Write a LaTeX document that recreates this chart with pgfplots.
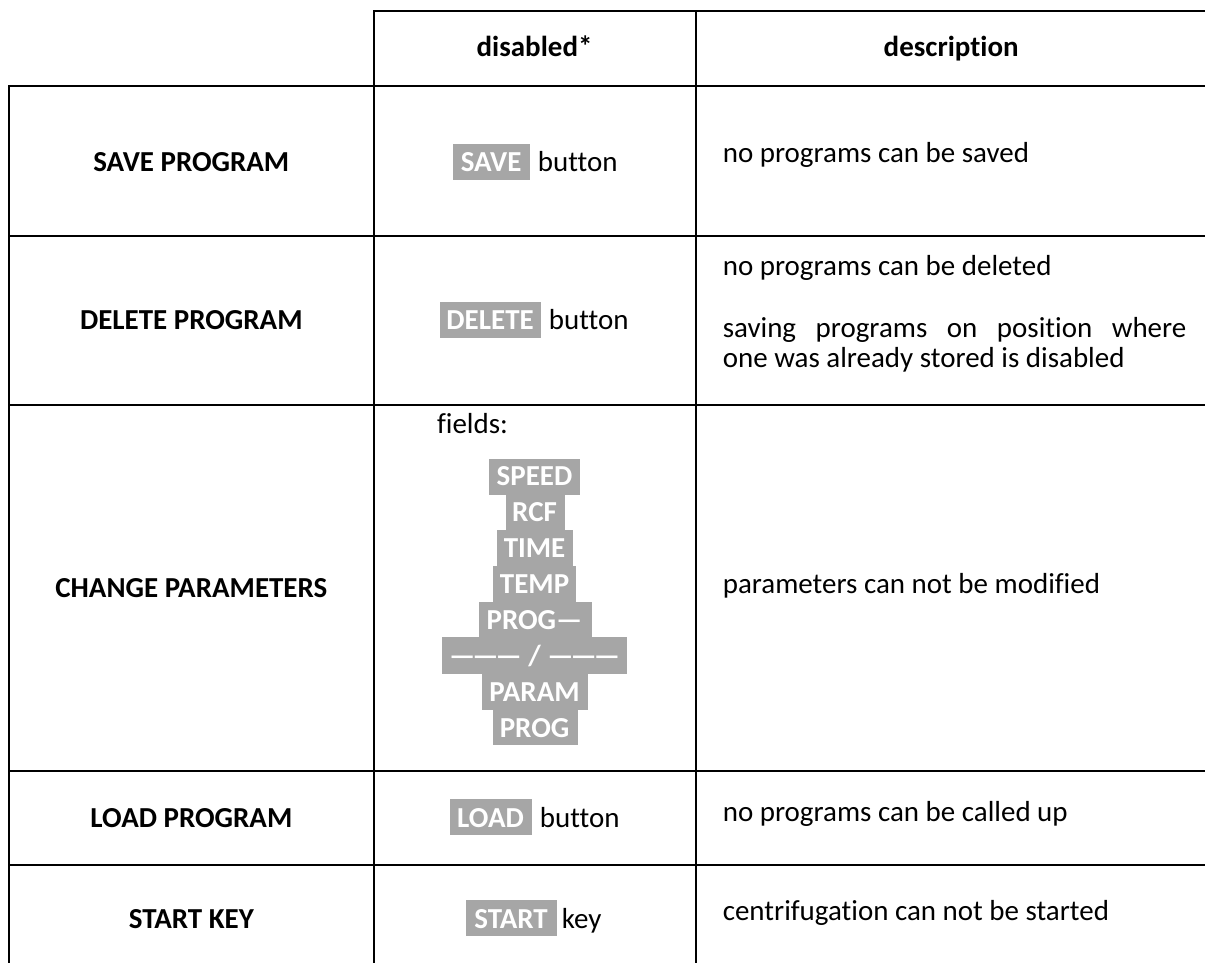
\documentclass[border=0pt]{standalone}
\usepackage{pgfplots}
\pgfplotsset{compat=1.18}
\usepackage{fontspec}
\setmainfont{Carlito}[Ligatures={NoCommon}]
\definecolor{boxgray}{HTML}{A6A6A6}
\tikzset{
  tx/.style={font=\fontsize{14.5pt}{15pt}\selectfont, inner sep=0pt, anchor=base},
  txb/.style={font=\fontsize{14.5pt}{15pt}\selectfont\bfseries, inner sep=0pt, anchor=base},
  btn/.style={font=\fontsize{14.5pt}{15pt}\selectfont\bfseries, inner sep=0pt, anchor=base, text=white},
}
\begin{document}
\begin{tikzpicture}
\begin{axis}[width=603pt,height=482pt,scale only axis,
  xmin=0,xmax=1206,ymin=0,ymax=964,y dir=reverse,
  axis lines=none,clip=false,no markers]
% bounding area
\addplot[draw=none,forget plot] coordinates {(0,0) (1206,964)};
% table rules
\addplot[black,line width=1pt,forget plot] coordinates {(374,11) (1206,11)};
\addplot[black,line width=1pt,forget plot] coordinates {(8.5,86) (1206,86)};
\addplot[black,line width=1pt,forget plot] coordinates {(8.5,236) (1206,236)};
\addplot[black,line width=1pt,forget plot] coordinates {(8.5,405) (1206,405)};
\addplot[black,line width=1pt,forget plot] coordinates {(8.5,772) (1206,772)};
\addplot[black,line width=1pt,forget plot] coordinates {(8.5,866) (1206,866)};
\addplot[black,line width=1pt,forget plot] coordinates {(9,85.5) (9,964)};
\addplot[black,line width=1pt,forget plot] coordinates {(374,10.5) (374,964)};
\addplot[black,line width=1pt,forget plot] coordinates {(697,10.5) (697,964)};

% header
\node[txb] at (axis cs:535,57) {disabled*};
\node[txb] at (axis cs:952,57) {description};

% first column
\node[txb] at (axis cs:191.5,172) {SAVE PROGRAM};
\node[txb] at (axis cs:191.5,330) {DELETE PROGRAM};
\node[txb] at (axis cs:191.5,598) {CHANGE PARAMETERS};
\node[txb] at (axis cs:191.5,828) {LOAD PROGRAM};
\node[txb] at (axis cs:191.5,929) {START KEY};

% second column: buttons
\fill[boxgray] (axis cs:453,144) rectangle (axis cs:530,180);
\node[btn] at (axis cs:491.5,172) {SAVE};
\node[tx,anchor=base west] at (axis cs:538,172) {button};

\fill[boxgray] (axis cs:440,302) rectangle (axis cs:541,338);
\node[btn] at (axis cs:490.5,330) {DELETE};
\node[tx,anchor=base west] at (axis cs:549,330) {button};

\node[tx,anchor=base west] at (axis cs:437,434) {fields:};
\fill[boxgray] (axis cs:489,459) rectangle (axis cs:580,495);
\fill[boxgray] (axis cs:506,494) rectangle (axis cs:565,531);
\fill[boxgray] (axis cs:497,530) rectangle (axis cs:573,567);
\fill[boxgray] (axis cs:493,566) rectangle (axis cs:576,603);
\fill[boxgray] (axis cs:479,602) rectangle (axis cs:592,639);
\fill[boxgray] (axis cs:442,638) rectangle (axis cs:628,675);
\fill[boxgray] (axis cs:482,674) rectangle (axis cs:588,711);
\fill[boxgray] (axis cs:493,710) rectangle (axis cs:578,746);
\node[btn] at (axis cs:535,486) {SPEED};
\node[btn] at (axis cs:535,522) {RCF};
\node[btn] at (axis cs:535,558) {TIME};
\node[btn] at (axis cs:535,594) {TEMP};
\node[btn] at (axis cs:535,630) {PROG—};
\node[btn] at (axis cs:535,666) {—\kern-1.5pt—\kern-1.5pt— / —\kern-1.5pt—\kern-1.5pt—};
\node[btn] at (axis cs:535,702) {PARAM};
\node[btn] at (axis cs:535,738) {PROG};

\fill[boxgray] (axis cs:450,800) rectangle (axis cs:532,836);
\node[btn] at (axis cs:491,828) {LOAD};
\node[tx,anchor=base west] at (axis cs:540,828) {button};

\fill[boxgray] (axis cs:466,901) rectangle (axis cs:557,937);
\node[btn] at (axis cs:511.5,929) {START};
\node[tx,anchor=base west] at (axis cs:562,929) {key};

% third column
\node[tx,anchor=base west] at (axis cs:723,163) {no programs can be saved};
\node[tx,anchor=base west] at (axis cs:723,276) {no programs can be deleted};
\node[tx,anchor=base west] at (axis cs:723,338) {\makebox[232pt][s]{saving programs on position where}};
\node[tx,anchor=base west] at (axis cs:723,368) {one was already stored is disabled};
\node[tx,anchor=base west] at (axis cs:723,594) {parameters can not be modified};
\node[tx,anchor=base west] at (axis cs:723,822) {no programs can be called up};
\node[tx,anchor=base west] at (axis cs:723,921) {centrifugation can not be started};
\end{axis}
\end{tikzpicture}
\end{document}
